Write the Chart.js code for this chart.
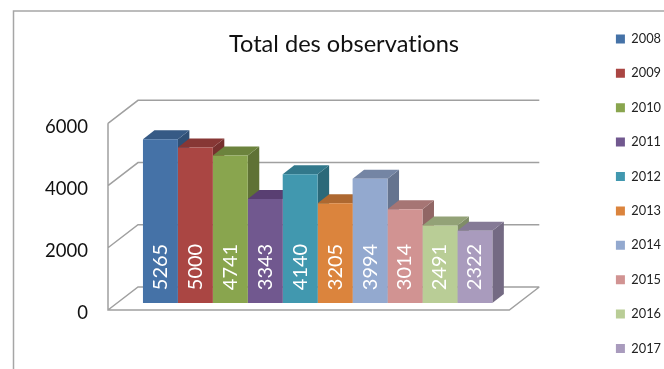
<!DOCTYPE html>
<html>
<head>
<meta charset="utf-8">
<style>
  html, body { margin: 0; padding: 0; background: #fff; }
  canvas { display: block; }
</style>
<script src="https://cdn.jsdelivr.net/npm/chart.js@4"></script>
</head>
<body>
<canvas id="chart" width="664" height="369"></canvas>
<script>
const years = ['2008', '2009', '2010', '2011', '2012', '2013', '2014', '2015', '2016', '2017'];
const totals = [5265, 5000, 4741, 3343, 4140, 3205, 3994, 3014, 2491, 2322];
const frontColors = ['#4572A7', '#AA4643', '#89A54E', '#71588F', '#4198AF', '#DB843D', '#93A9CF', '#D19392', '#B9CD96', '#A99BBD'];
const topColors = ['#365A85', '#873735', '#6C833D', '#593F72', '#32788B', '#AE6830', '#7485A4', '#A67574', '#93A277', '#857A96'];
const sideColors = ['#2F4F75', '#76302E', '#5F7235', '#4E3763', '#2B6979', '#985A29', '#65748F', '#916665', '#808D68', '#746A83'];
const tickValues = [0, 2000, 4000, 6000];

// offsets of the fake 3D box, relative to the plane the bars stand on
const BAR_DX = 11.5, BAR_DY = -9;
const WALL_FRONT = { dx: -9, dy: 7 };
const WALL_BACK = { dx: 21, dy: -16 };

function poly(ctx, pts, fill) {
  ctx.beginPath();
  pts.forEach((p, i) => i ? ctx.lineTo(p[0], p[1]) : ctx.moveTo(p[0], p[1]));
  ctx.closePath();
  ctx.fillStyle = fill;
  ctx.fill();
}

const box3d = {
  id: 'box3d',
  afterLayout(chart) {
    // legend has to sit a bit lower and further right than the library would put it
    chart.legend.top += 7.5;
    chart.legend.bottom += 7.5;
    chart.legend.left += 7;
    chart.legend.right += 7;
  },
  beforeDraw(chart) {
    const { ctx } = chart;
    // stops the "ti" ligature in the title
    ctx.textRendering = 'optimizeSpeed';
    ctx.save();
    ctx.strokeStyle = '#a6a6a6';
    ctx.lineWidth = 1.5;
    ctx.beginPath();
    ctx.moveTo(13.5, 369);
    ctx.lineTo(13.5, 11);
    ctx.lineTo(664, 11);
    ctx.stroke();
    ctx.restore();
  },
  beforeDatasetsDraw(chart) {
    const { ctx, chartArea, scales } = chart;
    const y = scales.y;
    const fl = chartArea.left + WALL_FRONT.dx, fr = chartArea.right + WALL_FRONT.dx;
    const bl = chartArea.left + WALL_BACK.dx, br = chartArea.right + WALL_BACK.dx;

    ctx.save();
    ctx.strokeStyle = '#a0a0a0';
    ctx.lineWidth = 1.5;
    ctx.beginPath();
    tickValues.forEach(v => {
      const py = y.getPixelForValue(v);
      ctx.moveTo(fl, py + WALL_FRONT.dy);
      ctx.lineTo(bl, py + WALL_BACK.dy);
      ctx.lineTo(br, py + WALL_BACK.dy);
    });
    const y0 = y.getPixelForValue(0), yMax = y.getPixelForValue(6000);
    ctx.moveTo(fl, yMax + WALL_FRONT.dy);
    ctx.lineTo(fl, y0 + WALL_FRONT.dy);
    ctx.lineTo(fr, y0 + WALL_FRONT.dy);
    ctx.lineTo(br, y0 + WALL_BACK.dy);
    ctx.stroke();

    // side and top faces, left to right so the next bar covers the previous side
    totals.forEach((v, i) => {
      const bar = chart.getDatasetMeta(i).data[0];
      const l = bar.x - bar.width / 2, r = bar.x + bar.width / 2;
      const t = bar.y, b = bar.base;
      poly(ctx, [[r, t], [r + BAR_DX, t + BAR_DY], [r + BAR_DX, b + BAR_DY], [r, b]], sideColors[i]);
      poly(ctx, [[l, t], [l + BAR_DX, t + BAR_DY], [r + BAR_DX, t + BAR_DY], [r, t]], topColors[i]);
    });
    ctx.restore();
  },
  afterDatasetsDraw(chart) {
    const { ctx, scales } = chart;
    ctx.save();
    ctx.fillStyle = '#fff';
    ctx.font = '20px Lato';
    ctx.textAlign = 'center';
    ctx.textBaseline = 'middle';
    totals.forEach((v, i) => {
      const bar = chart.getDatasetMeta(i).data[0];
      ctx.save();
      ctx.translate(bar.x, scales.y.getPixelForValue(0) - 36);
      ctx.rotate(-Math.PI / 2);
      ctx.fillText(String(v), 0, 0);
      ctx.restore();
    });
    ctx.restore();
  }
};

new Chart(document.getElementById('chart'), {
  type: 'bar',
  plugins: [box3d],
  data: {
    labels: ['Total'],
    datasets: years.map((year, i) => ({
      label: year,
      data: [totals[i]],
      backgroundColor: frontColors[i],
      categoryPercentage: 0.8706,
      barPercentage: 1
    }))
  },
  options: {
    responsive: false,
    animation: false,
    layout: { padding: { left: 24 } },
    plugins: {
      tooltip: { enabled: false },
      title: {
        display: true,
        text: 'Total des observations',
        color: '#111',
        font: { family: 'Lato', size: 23.6, weight: 'normal' },
        padding: { top: 30, bottom: 58 }
      },
      legend: {
        position: 'right',
        align: 'end',
        labels: {
          boxWidth: 9,
          boxHeight: 9,
          padding: 21.6,
          color: '#222',
          font: { family: 'Lato', size: 12.8 }
        }
      }
    },
    scales: {
      x: {
        grid: { display: false },
        border: { display: false },
        ticks: { display: false },
        afterFit(scale) { scale.height = 66; }
      },
      y: {
        min: 0,
        max: 6000,
        afterBuildTicks(scale) { scale.ticks = tickValues.map(value => ({ value })); },
        grid: { display: false, drawTicks: false },
        border: { display: false },
        ticks: {
          color: '#111',
          padding: 29,
          labelOffset: 10.5,
          font: { family: 'Lato', size: 18.5 },
          callback: value => String(value)
        },
        afterFit(scale) { scale.width = 93; }
      },
      // keeps the gap between the walls and the legend
      spacer: {
        position: 'right',
        grid: { display: false, drawTicks: false },
        border: { display: false },
        ticks: { display: false },
        afterFit(scale) { scale.width = 69; }
      }
    }
  }
});
</script>
</body>
</html>
